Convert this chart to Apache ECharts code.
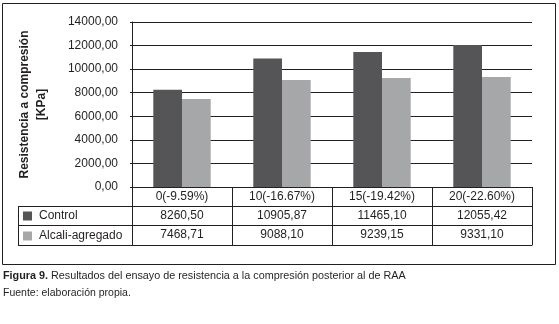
<!DOCTYPE html>
<html>
<head>
<meta charset="utf-8">
<script src="https://cdn.jsdelivr.net/npm/echarts@6/dist/echarts.min.js"></script>
<style>
  html, body { margin: 0; padding: 0; background: #fff; }
  #main { width: 559px; height: 324px; }
</style>
</head>
<body>
<div id="main"></div>
<script>
// datos
var categories = ['0(-9.59%)', '10(-16.67%)', '15(-19.42%)', '20(-22.60%)'];
var control = [8260.50, 10905.87, 11465.10, 12055.42];
var alcali = [7468.71, 9088.10, 9239.15, 9331.10];
var seriesNames = ['Control', 'Alcali-agregado'];

function fmt(v) {
    return v.toFixed(2).replace('.', ',');
}

var ink = '#231f20';
var font = 'Liberation Sans';

// eje x de la tabla: una fila por eje
function tableAxis(data, offset, tickLen, showLabel) {
    return {
        type: 'category',
        position: 'bottom',
        offset: offset,
        data: data,
        boundaryGap: true,
        axisLine: {show: true, lineStyle: {color: ink, width: 1}},
        axisTick: {show: tickLen > 0, interval: 0, length: tickLen, alignWithLabel: false,
            lineStyle: {color: ink, width: 1}},
        axisLabel: {show: showLabel, interval: 0, margin: 4, fontSize: 12, fontFamily: font, color: ink},
        splitLine: {show: false}
    };
}

var chart = echarts.init(document.getElementById('main'));
var option = {
    animation: false,
    backgroundColor: '#fff',
    textStyle: {fontFamily: font},
    title: [{
        text: '{b|Figura 9.} Resultados del ensayo de resistencia a la compresión posterior al de RAA',
        left: 3,
        top: 271,
        padding: 0,
        textStyle: {
            fontSize: 10.8, fontWeight: 'normal', fontFamily: font, color: ink,
            rich: {b: {fontSize: 10.8, fontWeight: 'bold', fontFamily: font, color: ink}}
        }
    }, {
        text: 'Fuente: elaboración propia.',
        left: 3,
        top: 288,
        padding: 0,
        textStyle: {fontSize: 10.5, fontWeight: 'normal', fontFamily: font, color: ink}
    }],
    legend: {
        orient: 'vertical',
        left: 23,
        top: 209,
        padding: 0,
        itemGap: 6,
        itemWidth: 9,
        itemHeight: 9,
        icon: 'rect',
        selectedMode: false,
        data: seriesNames,
        textStyle: {fontSize: 12, fontFamily: font, color: ink, lineHeight: 14, padding: [0, 0, 0, 2]}
    },
    grid: {left: 132, right: 27, top: 22, bottom: 137},
    xAxis: [
        tableAxis(categories, 0, 19, true),
        tableAxis(control.map(fmt), 19, 19, true),
        tableAxis(alcali.map(fmt), 38, 20, true),
        tableAxis(['', '', '', ''], 58, 0, false)
    ],
    yAxis: {
        type: 'value',
        min: 0,
        max: 14000,
        interval: 2000,
        name: 'Resistencia a compresión\n[KPa]',
        nameLocation: 'middle',
        nameRotate: 90,
        nameGap: 82,
        nameTextStyle: {fontSize: 12, fontWeight: 'bold', fontFamily: font, color: ink, lineHeight: 17, align: 'center'},
        axisLine: {show: true, lineStyle: {color: ink, width: 1}},
        axisTick: {show: true, length: 2, lineStyle: {color: ink}},
        axisLabel: {margin: 14, fontSize: 12, fontFamily: font, color: ink, formatter: fmt},
        splitLine: {show: true, lineStyle: {color: ink, width: 1}}
    },
    series: [{
        name: seriesNames[0],
        type: 'bar',
        data: control,
        barWidth: '28.7%',
        barGap: '0%',
        itemStyle: {color: '#555557'}
    }, {
        name: seriesNames[1],
        type: 'bar',
        data: alcali,
        barWidth: '28.7%',
        barGap: '0%',
        itemStyle: {color: '#a6a7a9'}
    }],
    graphic: [
        // marco exterior
        {type: 'rect', shape: {x: 2.5, y: 3.5, width: 553, height: 261},
            style: {fill: null, stroke: ink, lineWidth: 1}, silent: true},
        // lineas de la columna de leyenda
        {type: 'line', shape: {x1: 18, y1: 206.5, x2: 132, y2: 206.5}, style: {stroke: ink, lineWidth: 1}},
        {type: 'line', shape: {x1: 18, y1: 225.5, x2: 132, y2: 225.5}, style: {stroke: ink, lineWidth: 1}},
        {type: 'line', shape: {x1: 18, y1: 245.5, x2: 132, y2: 245.5}, style: {stroke: ink, lineWidth: 1}},
        {type: 'line', shape: {x1: 18.5, y1: 206, x2: 18.5, y2: 246}, style: {stroke: ink, lineWidth: 1}}
    ]
};
chart.setOption(option);
</script>
</body>
</html>
